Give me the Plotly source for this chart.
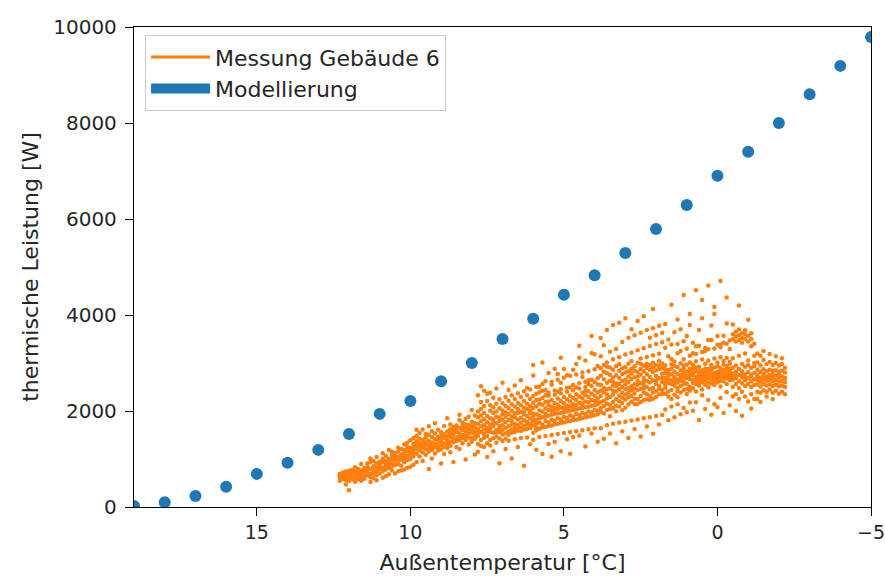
import plotly.graph_objects as go

# Modellierung (blue dots)
model_temp = [19, 18, 17, 16, 15, 14, 13, 12, 11, 10, 9, 8, 7, 6, 5, 4, 3, 2, 1, 0, -1, -2, -3, -4, -5]
model_power = [20, 100, 230, 420, 690, 920, 1190, 1520, 1940, 2210, 2620, 3000, 3500, 3920, 4420,
               4830, 5290, 5790, 6290, 6900, 7400, 8000, 8600, 9190, 9790]

meas_temp = [
    12.3, 12.2, 12.1, 12.0, 11.9, 11.8, 11.7, 11.6, 11.5,
    11.4, 11.3, 11.2, 11.1, 11.0, 10.9, 10.8, 10.7, 10.6, 10.5, 10.4, 10.3, 10.2, 10.1, 10.0, 9.9, 9.8,
    9.7, 9.6, 9.5, 9.4, 9.3, 9.2, 9.1, 9.0, 8.9, 8.8, 8.7, 8.6, 8.5, 8.4, 8.3, 8.2, 8.1, 8.0, 7.9,
    7.8, 7.7, 7.6, 7.5, 7.4, 7.3, 7.2, 7.1, 7.0, 6.9, 6.8, 6.7, 6.6, 6.5, 6.4, 6.3, 6.2, 6.1,
    6.0, 5.9, 5.8, 5.7, 5.6, 5.5, 5.4, 5.3, 5.2, 5.1, 5.0, 4.9, 4.8, 4.7, 4.6, 4.5, 4.4, 4.3, 4.2, 4.1, 4.0, 3.9,
    3.8, 3.7, 3.6, 3.5, 3.4, 3.3, 3.2, 3.1, 3.0, 2.9, 2.8, 2.7, 2.6, 2.5, 2.4, 2.3, 2.2, 2.1, 2.0, 1.9, 1.8,
    1.7, 1.6, 1.5, 1.4, 1.3, 1.2, 1.1, 1.0, 0.9, 0.8, 0.7, 0.6, 0.5, 0.4, 0.3, 0.2, 0.1, 0.0,
    -0.1, -0.2, -0.3, -0.4,
    -0.5, -0.6, -0.7, -0.8, -0.9, -1.0, -1.1, -1.2,
    -1.3, -1.4, -1.5, -1.6, -1.7, -1.8, -1.9, -2.0, -2.1, -2.2,
]
meas_power = [
    [610, 690, 545, 655],
    [665, 585, 720, 630],
    [615, 705, 740, 560, 470, 655],
    [675, 590, 755, 540, 350, 640],
    [625, 715, 575, 770],
    [695, 605, 745, 525, 830],
    [640, 725, 580, 790, 685],
    [700, 625, 760, 545, 895],
    [735, 650, 815, 590],
    [720, 840, 655, 905, 780],
    [790, 690, 935, 620, 1010, 520],
    [850, 760, 700, 960, 600],
    [740, 905, 820, 660, 1040, 555],
    [880, 790, 950, 700, 815],
    [820, 930, 745, 1005, 610, 1120],
    [960, 865, 780, 1060, 900, 640],
    [890, 1010, 810, 940, 680, 1190],
    [1000, 905, 850, 1085, 760, 1150],
    [945, 1060, 870, 1130, 990, 700],
    [1040, 960, 1150, 890, 1235, 745],
    [985, 1100, 1030, 860, 1210, 760],
    [1120, 1010, 1190, 930, 1300, 780, 1060],
    [1060, 1160, 980, 1250, 1340, 820],
    [1180, 1090, 1230, 1000, 1390, 840, 1130],
    [1130, 1250, 1050, 1310, 1440, 880, 1200],
    [1210, 1290, 1110, 1370, 1480, 940, 1610],
    [1180, 1330, 1265, 1420, 1050, 1540],
    [1240, 1135, 1395, 1310, 1615, 960],
    [1290, 1450, 1205, 1360, 1090, 1520],
    [1225, 1375, 1505, 1150, 1300, 790, 1680],
    [1345, 1265, 1460, 1190, 1580, 1010],
    [1410, 1320, 1240, 1530, 1115, 1745],
    [1300, 1460, 1385, 1610, 1175, 1250],
    [1360, 1480, 1290, 1555, 1200, 905, 1420],
    [1440, 1325, 1520, 1690, 1250, 1105],
    [1390, 1480, 1575, 1310, 1230, 1850],
    [1460, 1360, 1620, 1535, 1275, 1720, 1140],
    [1510, 1420, 1350, 1665, 1590, 935],
    [1455, 1560, 1380, 1700, 1250, 1625],
    [1540, 1470, 1640, 1395, 1810, 1210, 1920],
    [1500, 1605, 1430, 1685, 1330, 1760],
    [1575, 1480, 1650, 1395, 1835, 990, 1720],
    [1530, 1620, 1450, 1710, 1880, 1300],
    [1610, 1545, 1690, 1440, 1775, 1360, 2020],
    [1570, 1660, 1500, 1745, 1905, 1095, 1420],
    [1480, 1735, 1310, 1990, 1620, 2330, 1150, 1870, 1540],
    [1905, 1395, 1680, 2515, 1560, 2190, 1790, 1270, 2040],
    [1615, 2105, 1445, 1830, 2420, 1520, 1250, 1710, 1960],
    [1765, 1330, 2210, 1585, 1040, 1895, 2360, 1650, 1480],
    [2005, 1560, 1715, 1395, 2380, 1850, 1280, 2120, 1625],
    [1430, 1825, 2275, 1690, 1160, 1545, 1960, 2080, 1755],
    [1880, 1605, 2470, 1470, 1745, 2150, 1340, 1990, 1555],
    [1560, 2245, 1795, 910, 1690, 2055, 1425, 1865, 1620],
    [2160, 1705, 1510, 2590, 1930, 1375, 1820, 1610, 2010],
    [1650, 1970, 1210, 2290, 1765, 1530, 2105, 1880, 1425],
    [1935, 1575, 2440, 1820, 1380, 2215, 1690, 2060, 1505],
    [1720, 2330, 1010, 1615, 2005, 1885, 1545, 2140, 1795],
    [2095, 1640, 1870, 2530, 1410, 1955, 2250, 1730, 1560],
    [1590, 2370, 1825, 1250, 2040, 1705, 2165, 1960, 1660],
    [2120, 1755, 2640, 1985, 1435, 1650, 2290, 1860, 1590],
    [1695, 2410, 1930, 860, 2070, 1805, 1615, 2210, 1975],
    [2040, 1775, 2480, 1890, 1450, 2330, 1625, 2150, 1720],
    [1735, 2450, 1955, 1305, 2100, 1840, 1645, 2250, 2005],
    [2170, 1790, 2740, 1950, 1400, 2310, 2060, 1545, 2960, 1880, 1700],
    [1650, 2230, 1930, 2500, 1195, 1820, 2100, 2360, 1600, 1735],
    [2390, 1760, 2010, 1460, 2505, 1900, 2150, 1630, 1850, 2240],
    [1870, 3010, 1655, 2270, 1990, 1105, 2420, 1720, 2130, 2560],
    [2050, 1790, 2440, 1480, 2190, 1940, 2620, 1665, 1880, 2330],
    [2320, 1690, 2020, 1310, 2380, 1900, 2790, 1760, 2200, 2120],
    [1920, 2610, 1045, 2230, 1700, 2090, 2545, 1820, 1500, 2010],
    [2160, 1790, 2880, 1980, 2340, 1360, 2425, 1935, 1720, 2055],
    [1950, 2400, 1730, 2770, 2130, 1520, 2260, 1850, 2650, 2040],
    [2370, 1825, 3110, 2075, 1750, 2460, 1160, 2210, 1960, 2590],
    [2020, 2695, 1760, 2290, 1540, 2160, 2875, 1880, 2070, 1975],
    [2240, 1855, 2745, 2110, 1410, 2400, 1990, 2485, 2050, 1780],
    [2490, 1905, 2200, 1110, 2320, 1790, 2095, 2735, 1560, 2005],
    [2090, 2430, 1880, 2860, 2270, 1810, 2540, 1460, 2140, 2020],
    [1935, 2490, 2125, 1580, 2980, 2230, 1820, 2760, 2350, 2030],
    [2470, 2050, 3360, 1910, 2300, 1490, 2580, 2170, 1840, 3110],
    [2110, 2800, 1960, 2380, 1600, 2710, 2260, 1850, 2155, 2060],
    [2500, 1940, 2200, 3050, 2420, 1870, 1260, 2330, 2080, 2610],
    [2290, 2560, 1990, 2830, 2180, 1620, 2410, 1880, 2640, 2090],
    [2520, 2110, 3560, 2230, 1970, 2650, 1530, 2360, 3210, 1900],
    [2320, 2600, 2020, 3180, 2210, 1640, 2440, 1910, 2870, 2120],
    [2180, 2550, 1360, 2390, 2680, 2000, 2940, 2260, 1930, 2140],
    [2065, 2310, 2545, 2180, 2735, 1985, 2420, 3140, 1640, 2890, 3520],
    [2215, 1950, 2660, 2390, 2105, 2820, 3370, 1420, 2480, 2960],
    [2345, 2020, 2785, 2150, 2590, 3010, 2260, 3690, 1705, 2455, 2920],
    [2130, 2470, 2905, 2290, 1890, 2630, 3235, 1530, 2040, 2755],
    [2420, 2185, 2700, 2055, 2530, 3080, 2340, 3790, 1735, 2860, 2610],
    [2250, 2580, 1995, 2745, 2405, 3290, 1330, 2110, 2930, 2515],
    [2565, 2095, 2840, 2320, 2690, 3120, 2205, 3840, 1760, 2455, 2975],
    [2380, 2165, 2625, 2015, 2890, 3440, 1580, 2505, 2770, 2275],
    [2650, 2240, 2910, 2070, 2460, 3175, 2555, 3930, 1775, 2345, 2800],
    [2290, 2720, 2480, 2140, 2985, 3525, 1435, 2605, 2830, 2385],
    [2515, 2195, 2880, 2665, 2310, 3215, 2430, 3705, 1800, 2780, 3040],
    [2705, 2365, 2145, 2930, 2555, 3580, 1625, 2470, 2840, 2255],
    [2440, 2810, 2250, 3005, 2625, 2150, 3265, 3875, 1825, 2545, 2720],
    [2580, 2315, 2875, 2190, 3095, 2460, 3630, 1470, 2760, 2985],
    [2690, 2385, 2945, 2225, 2540, 3305, 2830, 3975, 1850, 2475, 2620],
    [2350, 2765, 2500, 2900, 2245, 3125, 3685, 1675, 2625, 2980],
    [2595, 2860, 2315, 2710, 3355, 2455, 3525, 1870, 2960, 2230],
    [2480, 2815, 2255, 3005, 2640, 3160, 4125, 1525, 2385, 3725, 2905],
    [2730, 2410, 2955, 2560, 2290, 3395, 3580, 1895, 2845, 2635],
    [2520, 2875, 2345, 3040, 2680, 3195, 3775, 1720, 2465, 2950],
    [2775, 2440, 2990, 2600, 2355, 3430, 3630, 1915, 2890, 2685],
    [2615, 2480, 2790, 2360, 2950, 2690, 3320, 2030, 2545, 3815, 2870],
    [2735, 2405, 2580, 2855, 3140, 2660, 3490, 1805, 2300, 2790],
    [2560, 2765, 2440, 2975, 2640, 3085, 2250, 4215, 2095, 2880, 3385],
    [2685, 2525, 2820, 2340, 3030, 2710, 3640, 1870, 2605, 2935],
    [2770, 2595, 2410, 2915, 2655, 3205, 3395, 2140, 2475, 3905, 2285],
    [2630, 2745, 2520, 2995, 2850, 3250, 3705, 1930, 2385, 2680],
    [2710, 2555, 2880, 2440, 3080, 2620, 3455, 2060, 2790, 4415, 2945],
    [2570, 2690, 2825, 2460, 2965, 3295, 3560, 1975, 2355, 2735],
    [2665, 2810, 2505, 3010, 2730, 3150, 3790, 2175, 2420, 4020, 2880],
    [2745, 2590, 2880, 2640, 2475, 3205, 3420, 2005, 2790, 2960],
    [2625, 2830, 2560, 3035, 2710, 3190, 3350, 2180, 2405, 4515, 2905],
    [2760, 2655, 2920, 2525, 2830, 3360, 3690, 1815, 2595, 2700],
    [2715, 2850, 2600, 3075, 2780, 3230, 3930, 2330, 2450, 4315, 2655],
    [2790, 2635, 2985, 2705, 2545, 3250, 3310, 2040, 2880, 2745],
    [2680, 2875, 2590, 3050, 2760, 3285, 3480, 2230, 2495, 4615, 2820],
    [2845, 2695, 2960, 2760, 2575, 3480, 3780, 1920, 2655, 2905],
    [2720, 2905, 2610, 3095, 2785, 3300, 4020, 2140, 2540, 4165, 2670],
    [2815, 2740, 3010, 2655, 2595, 3380, 3560, 2080, 2705, 2930],
    [2775, 2890, 2630, 3120, 2835, 3385, 3330, 2270, 2510, 4710, 2690],
    [2855, 2700, 3040, 2770, 2620, 3570, 3420, 1960, 2735, 2965],
    [2745, 2935, 2680, 3105, 2810, 3400, 3825, 2390, 2565, 4365, 2875],
    [2880, 2760, 3025, 2825, 2640, 3290, 3470, 2120, 2710, 2985],
    [2780, 2650, 2900, 2500, 3500, 3600, 3100, 2300, 3800, 2710],
    [2820, 2690, 2950, 2560, 3550, 3450, 3650, 2350, 2000, 2740],
    [2750, 2620, 2880, 2480, 3480, 3580, 3700, 3150, 2250, 4200],
    [2830, 2700, 2980, 2580, 3520, 3620, 3420, 2400, 1900, 2760],
    [2770, 2640, 2920, 2520, 3600, 3500, 3680, 3200, 2300, 2700],
    [2810, 2680, 2960, 2560, 3450, 3560, 3050, 2200, 3900],
    [2760, 2620, 2900, 2500, 3500, 3620, 3350, 2350, 2050, 2720],
    [2790, 2660, 2940, 2540, 3400, 3150, 2250, 3000],
    [2750, 2640, 2860, 2550, 3010, 2400, 3200, 2250, 2700],
    [2690, 2610, 2820, 2510, 2950, 2380, 3150, 2190],
    [2770, 2660, 2870, 2570, 3060, 2430, 3250, 2720],
    [2720, 2630, 2830, 2530, 2980, 2400, 2300, 2680],
    [2750, 2650, 2860, 2550, 3020, 2450, 3190, 2720],
    [2700, 2620, 2840, 2520, 2960, 2380, 2250, 2760],
    [2740, 2640, 2850, 2540, 3000, 2420, 3140],
    [2700, 2610, 2820, 2510, 2950, 2360, 2760],
    [2720, 2630, 2840, 2530, 2980, 2400, 3100],
    [2690, 2600, 2800, 2500, 2900, 2350],
]

x_tickvals = [15, 10, 5, 0, -5]
x_ticktext = ["15", "10", "5", "0", "\u22125"]
y_tickvals = [0, 2000, 4000, 6000, 8000, 10000]
y_ticktext = ["0", "2000", "4000", "6000", "8000", "10000"]

mx, my = [], []
for t, vals in zip(meas_temp, meas_power):
    for v in vals:
        mx.append(t)
        my.append(v)

ORANGE = "#ff7f0e"
BLUE = "#1f77b4"

fig = go.Figure()
fig.add_trace(go.Scatter(x=mx, y=my, mode="markers", showlegend=False,
                         marker=dict(color=ORANGE, size=4.5, line=dict(width=0))))
fig.add_trace(go.Scatter(x=model_temp, y=model_power, mode="markers", showlegend=False,
                         marker=dict(color=BLUE, size=12, line=dict(width=0))))
# legend entries
fig.add_trace(go.Scatter(x=[None], y=[None], mode="lines", name="Messung Gebäude 6",
                         line=dict(color=ORANGE, width=3)))
fig.add_trace(go.Scatter(x=[None], y=[None], mode="lines", name="Modellierung",
                         line=dict(color=BLUE, width=10)))

tick_font = dict(family="DejaVu Sans", size=20, color="#262626")
xtick_font = dict(family="DejaVu Sans", size=19, color="#262626")
label_font = dict(family="DejaVu Sans", size=22, color="#262626")
axis_common = dict(showgrid=False, zeroline=False, showline=True, linecolor="black", linewidth=1.3,
                   mirror=True, ticks="outside", ticklen=8, tickcolor="black", tickwidth=1.2,
                   automargin=False)

fig.update_layout(
    width=885, height=577,
    margin=dict(l=134, r=14, t=27, b=70, autoexpand=False),
    plot_bgcolor="white", paper_bgcolor="white",
    font=tick_font,
    xaxis=dict(range=[19, -5], tickvals=x_tickvals, ticktext=x_ticktext, ticklabeloverflow="allow",
               tickfont=xtick_font,
               title=dict(text="Außentemperatur [°C]", font=label_font, standoff=12), **axis_common),
    yaxis=dict(range=[0, 10000], tickvals=y_tickvals, ticktext=y_ticktext, ticklabelstandoff=4,
               tickfont=tick_font,
               title=dict(text="thermische Leistung [W]", font=label_font, standoff=8), **axis_common),
    legend=dict(x=0.015, y=0.983, xanchor="left", yanchor="top", bgcolor="white",
                bordercolor="#cccccc", borderwidth=1, font=label_font, tracegroupgap=4,
                itemwidth=59),
)

fig.write_html("out.html", config={"displayModeBar": False},
               post_script="document.body.style.margin='0';document.body.style.overflow='hidden';")
